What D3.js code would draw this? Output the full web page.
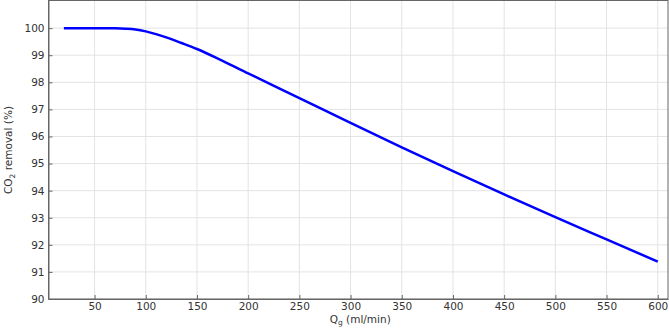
<!DOCTYPE html>
<html>
<head>
<meta charset="utf-8">
<script src="https://cdn.jsdelivr.net/npm/d3@7"></script>
<style>
  body { margin: 0; background: #fff; }
  text { font-family: "DejaVu Sans", sans-serif; }
</style>
</head>
<body>
<svg id="chart" width="669" height="328"></svg>
<script>
// data
var flowRates = [20, 40, 60, 70, 80, 90, 100, 110, 120, 135, 150, 175, 200, 250, 300, 350, 400, 450, 500, 550, 600];
var removal   = [100, 100, 100, 99.995, 99.98, 99.95, 99.88, 99.78, 99.66, 99.45, 99.23, 98.79, 98.33, 97.42, 96.5, 95.6, 94.72, 93.86, 93.02, 92.2, 91.38];
var xTicks = [50, 100, 150, 200, 250, 300, 350, 400, 450, 500, 550, 600];
var yTicks = [90, 91, 92, 93, 94, 95, 96, 97, 98, 99, 100];

var data = flowRates.map(function(q, i) { return {q: q, r: removal[i]}; });

var svg = d3.select("#chart");
var margin = {top: 0.5, right: 1, bottom: 29, left: 48.5},
    width = +svg.attr("width"),
    height = +svg.attr("height");

var x = d3.scaleLinear()
    .domain([5, 610])
    .range([margin.left, width - margin.right]);

var y = d3.scaleLinear()
    .domain([90, 101.02])
    .range([height - margin.bottom, margin.top]);

// grid
svg.append("g")
    .selectAll("line")
    .data(xTicks)
    .join("line")
    .attr("x1", d => x(d)).attr("x2", d => x(d))
    .attr("y1", y.range()[0]).attr("y2", y.range()[1])
    .attr("stroke", "#e3e3e3").attr("stroke-width", 1);

svg.append("g")
    .selectAll("line")
    .data(yTicks)
    .join("line")
    .attr("x1", x.range()[0]).attr("x2", x.range()[1])
    .attr("y1", d => y(d)).attr("y2", d => y(d))
    .attr("stroke", "#e3e3e3").attr("stroke-width", 1);

// axes with inward ticks
var xAxis = svg.append("g")
    .attr("transform", `translate(0,${height - margin.bottom})`)
    .call(d3.axisBottom(x).tickValues(xTicks).tickSizeInner(-4).tickSizeOuter(0));
xAxis.selectAll("text").attr("y", 4);

var yAxis = svg.append("g")
    .attr("transform", `translate(${margin.left},0)`)
    .call(d3.axisRight(y).tickValues(yTicks).tickSizeInner(4).tickSizeOuter(0));
yAxis.selectAll("text").attr("text-anchor", "end").attr("x", -4);

[xAxis, yAxis].forEach(function(a) {
  a.select(".domain").attr("stroke", "#666");
  a.selectAll(".tick line").attr("stroke", "#666");
  a.selectAll("text").attr("fill", "#333").style("font-size", "10.5px");
});

// box top/right
svg.append("rect")
    .attr("x", margin.left).attr("y", margin.top)
    .attr("width", x.range()[1] - margin.left)
    .attr("height", y.range()[0] - margin.top)
    .attr("fill", "none").attr("stroke", "#666").attr("stroke-width", 1);

// curve
svg.append("path")
    .datum(data)
    .attr("fill", "none")
    .attr("stroke", "#0000ff")
    .attr("stroke-width", 2.5)
    .attr("d", d3.line().curve(d3.curveMonotoneX).x(d => x(d.q)).y(d => y(d.r)));

// labels
var xl = svg.append("text")
    .attr("x", (margin.left + width - margin.right) / 2 + 2)
    .attr("y", 323)
    .attr("text-anchor", "middle")
    .attr("fill", "#333")
    .style("font-size", "10.5px");
xl.append("tspan").text("Q");
xl.append("tspan").attr("dy", 2).style("font-size", "7.5px").text("g");
xl.append("tspan").attr("dy", -2).text(" (ml/min)");

var yl = svg.append("text")
    .attr("transform", `translate(12,${y(95.5)}) rotate(-90)`)
    .attr("text-anchor", "middle")
    .attr("fill", "#333")
    .style("font-size", "10.5px");
yl.append("tspan").text("CO");
yl.append("tspan").attr("dy", 3).style("font-size", "7.5px").text("2");
yl.append("tspan").attr("dy", -3).text(" removal (%)");
</script>
</body>
</html>
